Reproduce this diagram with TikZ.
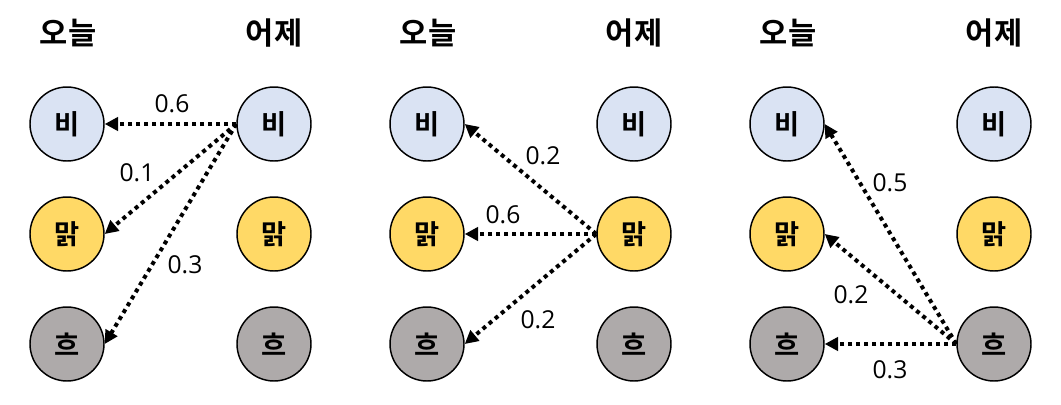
\documentclass[tikz,border=0pt]{standalone}
\usepackage{fontspec}
\setmainfont{Open Sans}
\newfontfamily\kr{Noto Sans CJK KR}[BoldFont={* Bold}]
\usetikzlibrary{arrows.meta}
\definecolor{cblue}{HTML}{DAE3F3}
\definecolor{cyellow}{HTML}{FFD966}
\definecolor{cgray}{HTML}{AEAAAA}
\tikzset{
  state/.style={circle,draw=black,line width=1.1pt,minimum size=55.5pt,inner sep=0pt,font=\kr\bfseries\fontsize{20.5}{20.5}\selectfont},
  title/.style={font=\kr\bfseries\fontsize{23}{23}\selectfont},
  prob/.style={font=\fontsize{18.5}{18.5}\selectfont},
  trans/.style={line width=3pt,dash pattern=on 3pt off 3pt,-{Triangle[length=10pt,width=10pt]},shorten >=0pt}
}
\begin{document}
\begin{tikzpicture}[x=0.75pt,y=-0.75pt]
\useasboundingbox (0,0) rectangle (1061,404);
\foreach \p/\dx in {1/0,2/360,3/720}{
  \node[title] (p\p tl) at (68+\dx,33) {오늘};
  \node[title] (p\p tr) at (274+\dx,33) {어제};
  \node[state,fill=cblue] (p\p Lb) at (67+\dx,124) {비};
  \node[state,fill=cyellow] (p\p Lm) at (67+\dx,234) {맑};
  \node[state,fill=cgray] (p\p Lh) at (67+\dx,344) {흐};
  \node[state,fill=cblue] (p\p Rb) at (274+\dx,124) {비};
  \node[state,fill=cyellow] (p\p Rm) at (274+\dx,234) {맑};
  \node[state,fill=cgray] (p\p Rh) at (274+\dx,344) {흐};
}
% panel 1
\draw[trans] (p1Rb.west) -- (p1Lb.east);
\draw[trans] (p1Rb.west) -- (p1Lm.east);
\draw[trans] (p1Rb.west) -- (p1Lh.east);
\node[prob] (a1) at (172,104) {0.6};
\node[prob] (a2) at (137,173) {0.1};
\node[prob] (a3) at (185,265) {0.3};
% panel 2
\draw[trans] (p2Rm.west) -- (p2Lb.east);
\draw[trans] (p2Rm.west) -- (p2Lm.east);
\draw[trans] (p2Rm.west) -- (p2Lh.east);
\node[prob] (b1) at (543,156) {0.2};
\node[prob] (b2) at (503,215) {0.6};
\node[prob] (b3) at (538,320) {0.2};
% panel 3
\draw[trans] (p3Rh.west) -- (p3Lb.east);
\draw[trans] (p3Rh.west) -- (p3Lm.east);
\draw[trans] (p3Rh.west) -- (p3Lh.east);
\node[prob] (c1) at (890,183) {0.5};
\node[prob] (c2) at (851,295) {0.2};
\node[prob] (c3) at (890,370) {0.3};
\end{tikzpicture}
\end{document}
